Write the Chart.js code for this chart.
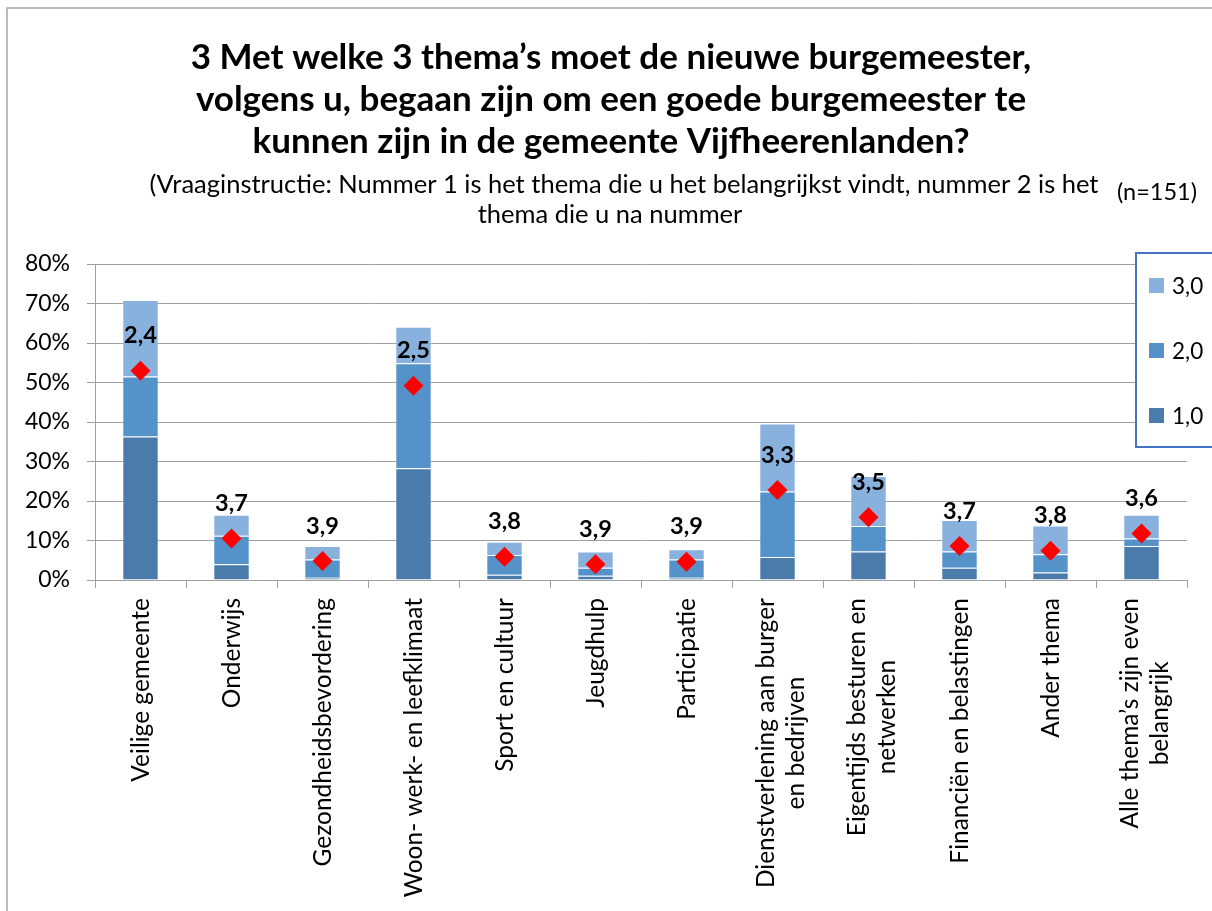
<!DOCTYPE html>
<html>
<head>
<meta charset="utf-8">
<script src="https://cdn.jsdelivr.net/npm/chart.js@4.4.1/dist/chart.umd.min.js"></script>
<style>
  html, body { margin: 0; padding: 0; background: #ffffff; }
  #wrap { width: 1212px; height: 911px; position: relative; }
</style>
</head>
<body>
<div id="wrap"><canvas id="c" width="1212" height="911"></canvas></div>
<script>
// ---- data ----
const categories = [
  ['Veilige gemeente'],
  ['Onderwijs'],
  ['Gezondheidsbevordering'],
  ['Woon- werk- en leefklimaat'],
  ['Sport en cultuur'],
  ['Jeugdhulp'],
  ['Participatie'],
  ['Dienstverlening aan burger', 'en bedrijven'],
  ['Eigentijds besturen en', 'netwerken'],
  ['Financiën en belastingen'],
  ['Ander thema'],
  ['Alle thema’s zijn even', 'belangrijk']
];
const seriesLabels = ['1,0', '2,0', '3,0'];
const rank1 = [36.3, 4.0, 0.6, 28.3, 1.3, 1.1, 0.6, 5.8, 7.2, 3.1, 1.9, 8.6];
const rank2 = [15.2, 7.2, 4.6, 26.6, 5.0, 2.0, 4.6, 16.6, 6.5, 4.1, 4.6, 1.9];
const rank3 = [19.4, 5.3, 3.4, 9.2, 3.4, 4.1, 2.6, 17.2, 12.6, 8.0, 7.3, 6.0];
const markerValues = [53.0, 10.5, 4.8, 49.2, 5.9, 4.0, 4.6, 22.8, 15.9, 8.6, 7.4, 11.8];
const averageLabels = ['2,4', '3,7', '3,9', '2,5', '3,8', '3,9', '3,9', '3,3', '3,5', '3,7', '3,8', '3,6'];
const yTickMin = 0, yTickMax = 80, yTickStep = 10;
const titleLines = [
  '3 Met welke 3 thema’s moet de nieuwe burgemeester,',
  'volgens u, begaan zijn om een goede burgemeester te',
  'kunnen zijn in de gemeente Vijfheerenlanden?'
];
const subtitleLines = [
  '(Vraaginstructie: Nummer 1 is het thema die u het belangrijkst vindt, nummer 2 is het',
  'thema die u na nummer'
];
const sampleNote = '(n=151)';

// ---- styles ----
const FAMILY = 'Lato, "Open Sans", sans-serif';
const colors = ['#4A7BAA', '#5592CA', '#88B1DD'];
const gridColor = '#A0A0A0';

function fit(text, weight, target) {
  const c = document.createElement('canvas').getContext('2d');
  c.font = weight + ' 100px ' + FAMILY;
  return Math.round(100 * target / c.measureText(text).width * 2) / 2;
}
const titleSize = fit(titleLines[0], 'bold', 837);
const subSize = fit(subtitleLines[0], 'normal', 954);
const noteSize = fit(sampleNote, 'normal', 80);
const catSize = fit('Woon- werk- en leefklimaat', 'normal', 300);
const tickSize = fit('80%', 'normal', 45);
const lblSize = fit('2,4', 'bold', 33);
const legSize = fit('3,0', 'normal', 31);

const deco = {
  id: 'deco',
  beforeDraw(chart) {
    const ctx = chart.ctx;
    ctx.save();
    ctx.fillStyle = '#ffffff';
    ctx.fillRect(0, 0, chart.width, chart.height);
    ctx.strokeStyle = '#A6A6A6';
    ctx.lineWidth = 1.5;
    ctx.strokeRect(7, 8, 1230, 930);
    ctx.fillStyle = '#000000';
    ctx.textAlign = 'center';
    ctx.textBaseline = 'middle';
    ctx.font = 'bold ' + titleSize + 'px ' + FAMILY;
    titleLines.forEach((t, i) => ctx.fillText(t, 611, 58 + i * 42));
    ctx.font = subSize + 'px ' + FAMILY;
    subtitleLines.forEach((t, i) => ctx.fillText(t, i === 0 ? 624 : 610, 185 + i * 30));
    ctx.font = noteSize + 'px ' + FAMILY;
    ctx.textAlign = 'right';
    ctx.fillText(sampleNote, 1197, 192);
    ctx.restore();
  },
  afterDraw(chart) {
    const ctx = chart.ctx;
    const xs = chart.scales.x;
    ctx.save();
    // category labels
    ctx.fillStyle = '#000000';
    ctx.font = catSize + 'px ' + FAMILY;
    ctx.textBaseline = 'middle';
    ctx.textAlign = 'center';
    categories.forEach((lines, i) => {
      const x = xs.getPixelForValue(i);
      const maxW = Math.max(...lines.map(l => ctx.measureText(l).width));
      ctx.save();
      ctx.translate(x + 1 + (lines.length > 1 ? 3 : 0), xs.top + 18);
      ctx.rotate(-Math.PI / 2);
      lines.forEach((l, j) => {
        ctx.fillText(l, -maxW / 2, (j - (lines.length - 1) / 2) * 30);
      });
      ctx.restore();
    });
    // legend box
    ctx.fillStyle = '#ffffff';
    ctx.fillRect(1136, 253, 90, 194);
    ctx.strokeStyle = '#4472C4';
    ctx.lineWidth = 2;
    ctx.strokeRect(1136, 253, 90, 194);
    ctx.font = legSize + 'px ' + FAMILY;
    ctx.textAlign = 'left';
    const order = [2, 1, 0];
    order.forEach((di, k) => {
      const ds = chart.data.datasets[di];
      const cy = 285.5 + k * 65;
      ctx.fillStyle = ds.backgroundColor;
      ctx.fillRect(1149, cy - 7.5, 15, 15);
      ctx.fillStyle = '#000000';
      ctx.fillText(ds.label, 1172, cy + 1);
    });
    ctx.restore();
  },
  afterDatasetsDraw(chart) {
    const ctx = chart.ctx;
    const meta = chart.getDatasetMeta(3);
    ctx.save();
    ctx.fillStyle = '#000000';
    ctx.font = 'bold ' + lblSize + 'px ' + FAMILY;
    ctx.textAlign = 'center';
    ctx.textBaseline = 'middle';
    meta.data.forEach((pt, i) => {
      ctx.fillText(averageLabels[i], pt.x, pt.y - 35);
    });
    ctx.restore();
  }
};

const barDs = (i, data) => ({
  type: 'bar',
  label: seriesLabels[i],
  data: data,
  backgroundColor: colors[i],
  borderColor: 'rgba(255,255,255,0.25)',
  borderWidth: 1,
  borderSkipped: 'bottom',
  stack: 'ranks',
  order: 1,
  barPercentage: 0.4,
  categoryPercentage: 1.0
});

new Chart(document.getElementById('c'), {
  data: {
    labels: categories.map(c => c.join(' ')),
    datasets: [
      barDs(0, rank1),
      barDs(1, rank2),
      barDs(2, rank3),
      {
        type: 'line',
        label: 'gemiddelde',
        data: markerValues,
        showLine: false,
        pointStyle: 'rectRot',
        pointRadius: 10,
        pointHoverRadius: 10,
        pointBackgroundColor: '#FF0000',
        pointBorderColor: '#FF0000',
        pointBorderWidth: 0,
        stack: 'avg',
        order: 0
      }
    ]
  },
  options: {
    responsive: false,
    animation: false,
    devicePixelRatio: 1,
    layout: { padding: { top: 264, left: 0, right: 25, bottom: 0 } },
    plugins: {
      legend: { display: false },
      title: { display: false },
      tooltip: { enabled: false }
    },
    scales: {
      x: {
        stacked: true,
        offset: true,
        grid: { offset: true, drawOnChartArea: false, drawTicks: true, tickLength: 8, color: gridColor, lineWidth: 1 },
        border: { display: true, color: gridColor, width: 1 },
        ticks: { display: false },
        afterFit(s) { s.height = 911 - 580; }
      },
      y: {
        stacked: true,
        min: yTickMin,
        max: yTickMax,
        grid: { color: gridColor, lineWidth: 1, tickLength: 8, drawTicks: true },
        border: { display: true, color: gridColor, width: 1 },
        ticks: {
          stepSize: yTickStep,
          padding: 17,
          color: '#000000',
          font: { family: FAMILY, size: tickSize },
          callback: v => v + '%'
        },
        afterFit(s) { s.width = 95; }
      }
    }
  },
  plugins: [deco]
});
</script>
</body>
</html>
